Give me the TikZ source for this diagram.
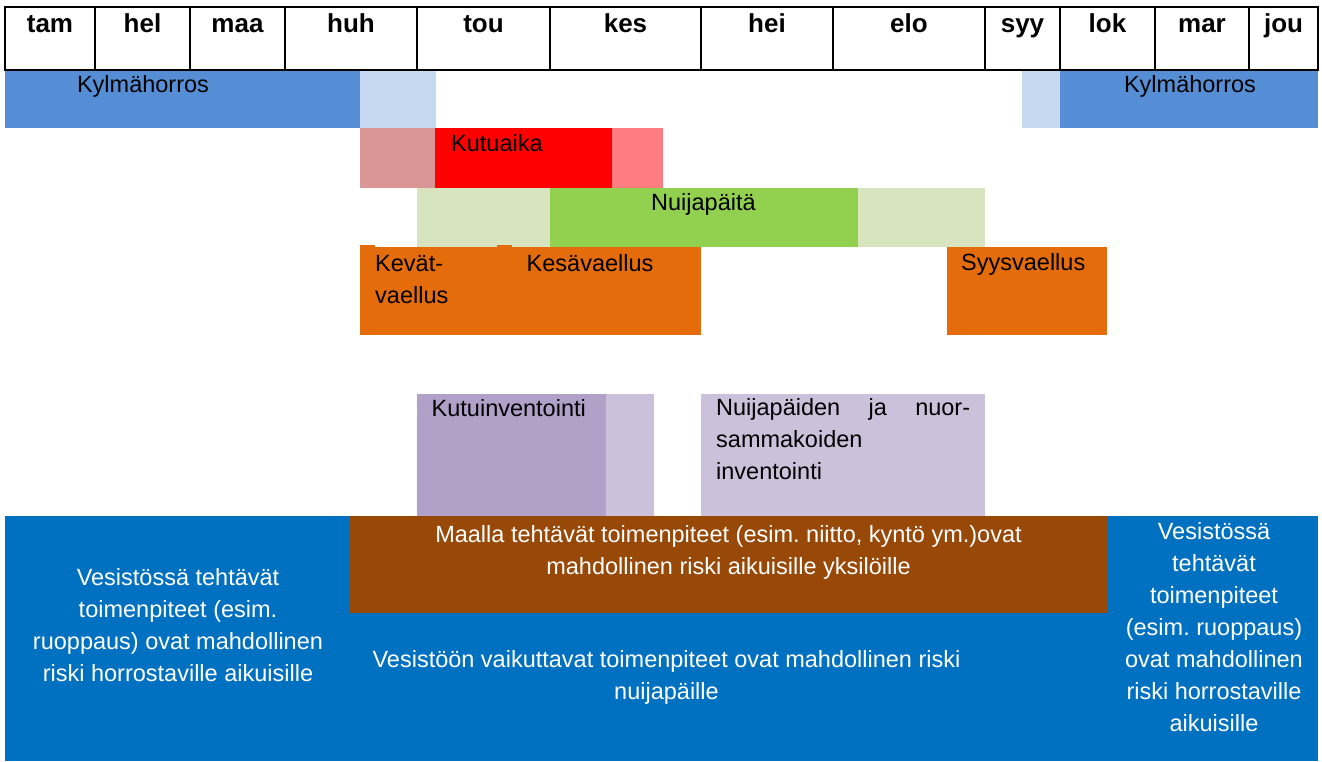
\documentclass[tikz,border=0pt]{standalone}
\usepackage{fontspec}
\setmainfont{Liberation Sans}
\frenchspacing
\definecolor{kdark}{HTML}{558ED5}
\definecolor{klight}{HTML}{C6D9F1}
\definecolor{kpink}{HTML}{D99694}
\definecolor{kred}{HTML}{FF0000}
\definecolor{klred}{HTML}{FF7C80}
\definecolor{nlight}{HTML}{D7E4BD}
\definecolor{ngreen}{HTML}{92D050}
\definecolor{vorange}{HTML}{E46C0A}
\definecolor{pdark}{HTML}{B1A0C7}
\definecolor{plight}{HTML}{CCC1DA}
\definecolor{wblue}{HTML}{0070C0}
\definecolor{lbrown}{HTML}{984807}
\begin{document}
\begin{tikzpicture}[x=1pt,y=-1pt,
  lbl/.style={inner sep=0pt, font=\fontsize{23.5}{32}\selectfont},
  lblw/.style={lbl, anchor=base west},
  hdr/.style={inner sep=0pt, anchor=base, font=\fontsize{26}{30}\selectfont\bfseries},
  wtxt/.style={lbl, text=white, align=center, anchor=north},
  grid/.style={draw=black, line width=2pt}]
\useasboundingbox (0,0) rectangle (1322,762);
% header table
\draw[grid] (5,7) rectangle (1318,70);
\foreach \x in {95,190,285,417,550,701,833,985,1060,1155,1249}
  \draw[grid] (\x,7) -- (\x,70);
\node[hdr] (m1) at (50,33) {tam};
\node[hdr] (m2) at (142.5,33) {hel};
\node[hdr] (m3) at (237.5,33) {maa};
\node[hdr] (m4) at (351,33) {huh};
\node[hdr] (m5) at (483.5,33) {tou};
\node[hdr] (m6) at (625.5,33) {kes};
\node[hdr] (m7) at (767,33) {hei};
\node[hdr] (m8) at (909,33) {elo};
\node[hdr] (m9) at (1022.5,33) {syy};
\node[hdr] (m10) at (1107.5,33) {lok};
\node[hdr] (m11) at (1202,33) {mar};
\node[hdr] (m12) at (1283.5,33) {jou};
% Kylmähorros
\fill[kdark] (5,71) rectangle (360,128);
\fill[klight] (360,71) rectangle (436,128);
\fill[klight] (1022,71) rectangle (1060,128);
\fill[kdark] (1060,71) rectangle (1318,128);
\node[lbl, anchor=base] (k1) at (143,93) {Kylmähorros};
\node[lbl, anchor=base] (k2) at (1190,93) {Kylmähorros};
% Kutuaika
\fill[kpink] (360,128) rectangle (435,188);
\fill[kred] (435,128) rectangle (612,188);
\fill[klred] (612,128) rectangle (663,188);
\node[lblw] (kutu) at (451,151.5) {Kutuaika};
% Nuijapäitä
\fill[nlight] (417,188) rectangle (550,247);
\fill[ngreen] (550,188) rectangle (858,247);
\fill[nlight] (858,188) rectangle (985,247);
\node[lblw] (nuija) at (651,211) {Nuijapäitä};
% vaellus
\fill[vorange] (360,247) rectangle (701,335);
\fill[vorange] (360,245) rectangle (375,247);
\fill[vorange] (497,245) rectangle (512,247);
\fill[vorange] (947,247) rectangle (1107,335);
\node[lbl, align=left, anchor=north west] (kevat) at (375,248.4) {\strut Kevät-\\vaellus};
\node[lblw] (kesa) at (526.5,271) {Kesävaellus};
\node[lblw] (syys) at (961,270) {Syysvaellus};
% inventointi
\fill[pdark] (417,394) rectangle (606,516);
\fill[plight] (606,394) rectangle (654,516);
\fill[plight] (701,394) rectangle (985,516);
\node[lblw] (kinv) at (431.5,416.7) {Kutuinventointi};
\node[lbl, align=left, text width=254pt, anchor=north west] (ninv) at (716,392.6)
  {\strut Nuijapäiden\hfill ja\hfill nuor-\\sammakoiden\\inventointi};
% risks
\fill[wblue] (5,516) rectangle (1318,761);
\fill[lbrown] (350,516) rectangle (1107,613);
\node[wtxt] (wl) at (178,563.3) {\strut Vesistössä tehtävät\\toimenpiteet (esim.\\ruoppaus) ovat mahdollinen\\riski horrostaville aikuisille};
\node[wtxt] (wm) at (666.5,644.6) {\strut Vesistöön vaikuttavat toimenpiteet ovat mahdollinen riski\\nuijapäille};
\node[wtxt] (wr) at (1214,516.6) {\strut Vesistössä\\tehtävät\\toimenpiteet\\(esim. ruoppaus)\\ovat mahdollinen\\riski horrostaville\\aikuisille};
\node[wtxt] (lb) at (728.5,520.3) {\strut Maalla tehtävät toimenpiteet (esim. niitto, kyntö ym.)ovat\\mahdollinen riski aikuisille yksilöille};
\end{tikzpicture}
\end{document}
